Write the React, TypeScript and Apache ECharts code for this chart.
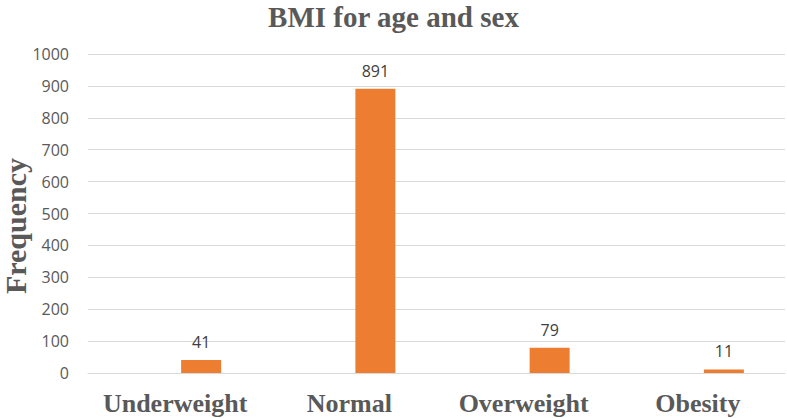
import React, { useEffect, useRef } from "react";
import * as echarts from "echarts";

const titleText = "BMI for age and sex";
const yAxisTitle = "Frequency";
const categories = ["Underweight", "Normal", "Overweight", "Obesity"];
const frequencies = [41, 891, 79, 11];
const placeholder = [null, null, null, null];
const yMin = 0;
const yMax = 1000;
const yStep = 100;

export default function App() {
  const ref = useRef<HTMLDivElement>(null);
  useEffect(() => {
    document.body.style.margin = "0";
    const chart = echarts.init(ref.current!, null, { renderer: "svg" });
    const serif = "'Liberation Serif', 'Times New Roman', serif";
    const sans = "'Open Sans', 'Noto Sans', sans-serif";
    chart.setOption({
      animation: false,
      backgroundColor: "#ffffff",
      title: {
        text: titleText,
        left: "center",
        top: 1,
        padding: 0,
        textStyle: {
          fontFamily: serif,
          fontWeight: "bold",
          fontSize: 29,
          lineHeight: 32,
          color: "#595959",
        },
      },
      graphic: [
        {
          type: "text",
          x: 15,
          y: 226,
          rotation: Math.PI / 2,
          style: {
            text: yAxisTitle,
            fontFamily: serif,
            fontWeight: "bold",
            fontSize: 30,
            fill: "#595959",
            textAlign: "center",
            textVerticalAlign: "middle",
          },
        },
      ],
      grid: { left: 88, right: 2, top: 54, bottom: 45, containLabel: false },
      xAxis: {
        type: "category",
        data: categories,
        axisLine: { show: true, lineStyle: { color: "#D9D9D9", width: 1 } },
        axisTick: { show: false },
        axisLabel: {
          interval: 0,
          fontFamily: serif,
          fontWeight: "bold",
          fontSize: 26,
          color: "#595959",
          margin: 17,
        },
      },
      yAxis: {
        type: "value",
        min: yMin,
        max: yMax,
        interval: yStep,
        axisLine: { show: false },
        axisTick: { show: false },
        splitLine: { lineStyle: { color: "#D9D9D9", width: 1 } },
        axisLabel: {
          fontFamily: sans,
          fontSize: 16,
          color: "#595959",
          margin: 19,
          formatter: (v: number) => String(v),
        },
      },
      series: [
        {
          type: "bar",
          data: placeholder,
          barWidth: 40,
          barGap: "30%",
          itemStyle: { color: "#A5A5A5" },
        },
        {
          type: "bar",
          data: frequencies,
          barWidth: 40,
          barGap: "30%",
          itemStyle: { color: "#ED7D31" },
          label: {
            show: true,
            position: "top",
            distance: 10,
            fontFamily: sans,
            fontSize: 16,
            color: "#404040",
          },
        },
      ],
    });
    return () => chart.dispose();
  }, []);
  return (
    <div
      ref={ref}
      style={{ position: "fixed", left: 0, top: 0, width: 787, height: 418 }}
    />
  );
}
